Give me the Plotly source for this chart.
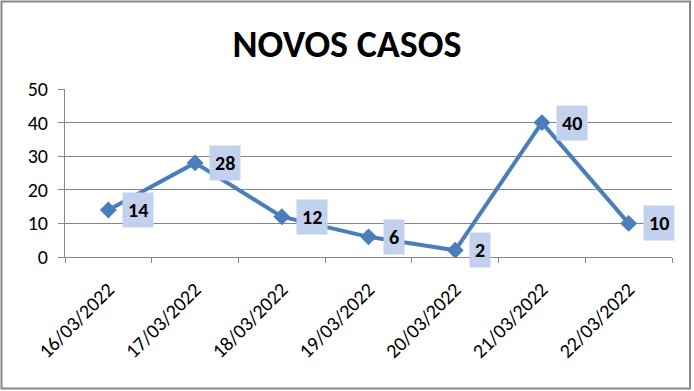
import plotly.graph_objects as go

dates = ["16/03/2022", "17/03/2022", "18/03/2022", "19/03/2022",
         "20/03/2022", "21/03/2022", "22/03/2022"]
novos_casos = [14, 28, 12, 6, 2, 40, 10]
title_text = "NOVOS CASOS"

FONT = "Carlito, 'Liberation Sans Narrow', 'DejaVu Sans Condensed', sans-serif"
W, H = 694, 391
ML, MR, MT, MB = 65, 22, 89, 134
PW, PH = W - ML - MR, H - MT - MB

fig = go.Figure()
fig.add_trace(go.Scatter(
    x=dates, y=novos_casos, mode="lines+markers",
    line=dict(color="#4a7ebb", width=4),
    marker=dict(symbol="diamond", size=13, color="#4a7ebb"),
    hoverinfo="x+y", showlegend=False,
))

annotations = []
for d, v in zip(dates, novos_casos):
    annotations.append(dict(
        x=d, y=v, xref="x", yref="y", text="<b>%d</b>" % v,
        showarrow=False, xanchor="left", yanchor="middle", xshift=14,
        bgcolor="#c2d1ee", borderpad=5,
        font=dict(family=FONT, size=20, color="#000000"),
    ))

def px_to_paper_x(px):
    return (px - ML) / PW

def px_to_paper_y(py):
    return ((H - py) - MB) / PH

fig.update_layout(
    width=W, height=H,
    margin=dict(l=ML, r=MR, t=MT, b=MB, pad=0),
    paper_bgcolor="#ffffff", plot_bgcolor="#ffffff",
    title=dict(text="<b>" + title_text + "</b>", x=0.5, xanchor="center",
               y=1 - 44 / H, yanchor="middle", xref="container",
               font=dict(family=FONT, size=38, color="#000000")),
    annotations=annotations,
    shapes=[dict(type="rect", xref="paper", yref="paper",
                 x0=px_to_paper_x(1.5), x1=px_to_paper_x(690),
                 y0=px_to_paper_y(388.5), y1=px_to_paper_y(1.5),
                 line=dict(color="#868686", width=2), fillcolor="rgba(0,0,0,0)",
                 layer="above")],
    xaxis=dict(type="category", tickson="boundaries", ticks="outside",
               ticklen=5, tickcolor="#868686", showline=True,
               linecolor="#868686", linewidth=1, showgrid=False,
               tickangle=-45, ticklabelstandoff=12,
               tickfont=dict(family=FONT, size=20, color="#000000"),
               range=[-0.5, len(dates) - 0.5], zeroline=False),
    yaxis=dict(range=[0, 50], dtick=10, ticks="outside", ticklen=6,
               tickcolor="#868686", showline=True, linecolor="#868686",
               linewidth=1, showgrid=True, gridcolor="#868686", gridwidth=1,
               zeroline=False, ticklabelstandoff=6,
               tickfont=dict(family=FONT, size=20, color="#000000")),
)

fig.write_html("out.html", config={"displayModeBar": False},
               post_script="document.body.style.margin='0';")
